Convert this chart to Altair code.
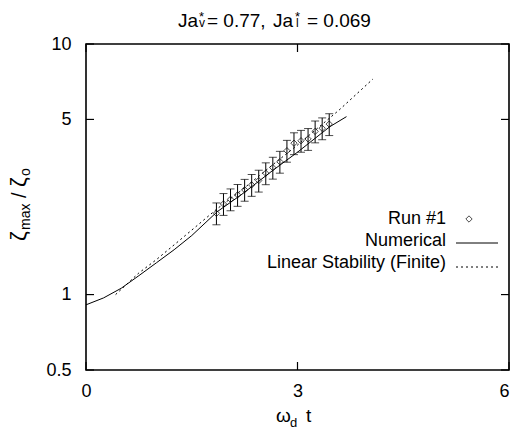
import altair as alt
import pandas as pd

# ---- data ----
run_t = [1.85, 1.95, 2.05, 2.15, 2.25, 2.35, 2.45, 2.55, 2.65, 2.75,
         2.85, 2.95, 3.05, 3.15, 3.25, 3.35, 3.45]
run_y = [2.11, 2.30, 2.40, 2.50, 2.62, 2.74, 2.85, 3.05, 3.21, 3.39,
         3.75, 4.02, 4.11, 4.18, 4.48, 4.61, 4.79]
run_rel_err = [0.10] * 17

num_t = [0.0, 0.25, 0.5, 0.75, 1.0, 1.25, 1.5, 1.86, 2.2, 2.65, 3.0, 3.46, 3.695]
num_y = [0.91, 0.97, 1.06, 1.19, 1.34, 1.51, 1.72, 2.14, 2.5, 3.13, 3.7, 4.68, 5.13]

lin_t = [0.42, 0.75, 1.0, 1.32, 1.86, 2.2, 2.65, 3.0, 3.59, 4.07]
lin_y = [1.0, 1.22, 1.38, 1.64, 2.2, 2.6, 3.3, 3.95, 5.45, 7.25]

x_ticks = [0, 3, 6]
y_ticks = [0.5, 1, 5, 10]

FONT = "Liberation Sans"
W, H = 423, 326

runs = pd.DataFrame({"t": run_t, "y": run_y, "e": run_rel_err})
runs["lo"] = runs["y"] * (1 - runs["e"])
runs["hi"] = runs["y"] * (1 + runs["e"])
num = pd.DataFrame({"t": num_t, "y": num_y})
lin = pd.DataFrame({"t": lin_t, "y": lin_y})

xs = alt.Scale(domain=[0, 6], nice=False, zero=False)
ys = alt.Scale(type="log", domain=[0.5, 10], nice=False)

X = alt.X("t:Q", scale=xs,
          axis=alt.Axis(values=x_ticks, title=None, labelPadding=12, format="d",
                        labelFlush=False,
                        labelAlign={"condition": {"test": "datum.value >= 6", "value": "right"},
                                    "value": "center"}))
Y = alt.Y("y:Q", scale=ys,
          axis=alt.Axis(values=y_ticks, title=None, labelPadding=15, format="~g",
                        labelFlush=False))

numerical = alt.Chart(num).mark_line(color="black", strokeWidth=1).encode(x=X, y=Y)
linear = alt.Chart(lin).mark_line(color="black", strokeWidth=1, strokeDash=[2, 3]).encode(
    x=alt.X("t:Q", scale=xs), y=alt.Y("y:Q", scale=ys))

bars = alt.Chart(runs).mark_rule(color="black", strokeWidth=1).encode(
    x=alt.X("t:Q", scale=xs), y=alt.Y("lo:Q", scale=ys), y2="hi:Q")
caps_lo = alt.Chart(runs).mark_tick(color="black", orient="horizontal", size=8, thickness=1).encode(
    x=alt.X("t:Q", scale=xs), y=alt.Y("lo:Q", scale=ys))
caps_hi = alt.Chart(runs).mark_tick(color="black", orient="horizontal", size=8, thickness=1).encode(
    x=alt.X("t:Q", scale=xs), y=alt.Y("hi:Q", scale=ys))
points = alt.Chart(runs).mark_point(shape="diamond", filled=False, color="black",
                                     size=40, strokeWidth=1).encode(
    x=alt.X("t:Q", scale=xs), y=alt.Y("y:Q", scale=ys))

# inward ticks
ytk = pd.DataFrame({"y": y_ticks})
xtk = pd.DataFrame({"t": x_ticks})
tick_l = alt.Chart(ytk).mark_rule(color="black", strokeWidth=1.2).encode(
    y=alt.Y("y:Q", scale=ys), x=alt.value(0), x2=alt.value(8))
tick_r = alt.Chart(ytk).mark_rule(color="black", strokeWidth=1.2).encode(
    y=alt.Y("y:Q", scale=ys), x=alt.value(W - 8), x2=alt.value(W))
tick_t = alt.Chart(xtk).mark_rule(color="black", strokeWidth=1.2).encode(
    x=alt.X("t:Q", scale=xs), y=alt.value(0), y2=alt.value(8))
tick_b = alt.Chart(xtk).mark_rule(color="black", strokeWidth=1.2).encode(
    x=alt.X("t:Q", scale=xs), y=alt.value(H - 8), y2=alt.value(H))

one = pd.DataFrame({"k": [0]})

frame = alt.Chart(one).mark_rect(fill="transparent", stroke="black", strokeWidth=1.6).encode(
    x=alt.value(0), x2=alt.value(W), y=alt.value(0), y2=alt.value(H))


def label(text, x, y, size=18, align="left", baseline="alphabetic", angle=0):
    return alt.Chart(one).mark_text(font=FONT, fontSize=size, align=align,
                                    baseline=baseline, angle=angle,
                                    color="black").encode(
        x=alt.value(x), y=alt.value(y), text=alt.value(text))


texts = [
    # title
    label("Ja", 112, -17, size=19, align="right"),
    label("*", 113, -23, size=13),
    label("v", 113, -17, size=12),
    label("= 0.77,", 121, -17, size=19),
    label("Ja", 207, -17, size=19, align="right"),
    label("*", 209, -23, size=13),
    label("l", 210, -17, size=12),
    label("= 0.069", 221, -17, size=19),
    # x title
    label("\u03c9", 190, 378, size=19),
    label("d", 204, 383, size=13),
    label("t", 220, 378, size=19),
    # y title (rotated, reads upward)
    label("\u03b6", -60, 197, size=22, angle=270),
    label("max", -56, 186, size=14, angle=270),
    label("/", -60, 154, size=20, angle=270),
    label("\u03b6", -60, 143, size=22, angle=270),
    label("o", -56, 132, size=14, angle=270),
    # legend
    label("Run #1", 360, 180, align="right"),
    label("Numerical", 360, 202, align="right"),
    label("Linear Stability (Finite)", 360, 224, align="right"),
]

leg_pt = alt.Chart(one).mark_point(shape="diamond", filled=False, color="black",
                                   size=40, strokeWidth=1).encode(
    x=alt.value(383), y=alt.value(175))
leg_solid = alt.Chart(one).mark_rule(color="black", strokeWidth=1).encode(
    x=alt.value(370), x2=alt.value(412), y=alt.value(199))
leg_dot = alt.Chart(one).mark_rule(color="black", strokeWidth=1, strokeDash=[2, 3]).encode(
    x=alt.value(370), x2=alt.value(412), y=alt.value(223))

chart = alt.layer(
    numerical, linear, bars, caps_lo, caps_hi, points,
    tick_l, tick_r, tick_t, tick_b, frame,
    leg_pt, leg_solid, leg_dot, *texts
).properties(
    width=W, height=H,
    autosize=alt.AutoSizeParams(type="none"),
    padding={"left": 78, "top": 36, "right": 1, "bottom": 64},
).configure_view(
    stroke="transparent", strokeWidth=0
).configure_axis(
    grid=False, domain=False, ticks=False, tickSize=0,
    labelFont=FONT, labelFontSize=18, labelColor="black"
)

chart.save("out.html", embed_options={"renderer": "svg", "actions": False})
